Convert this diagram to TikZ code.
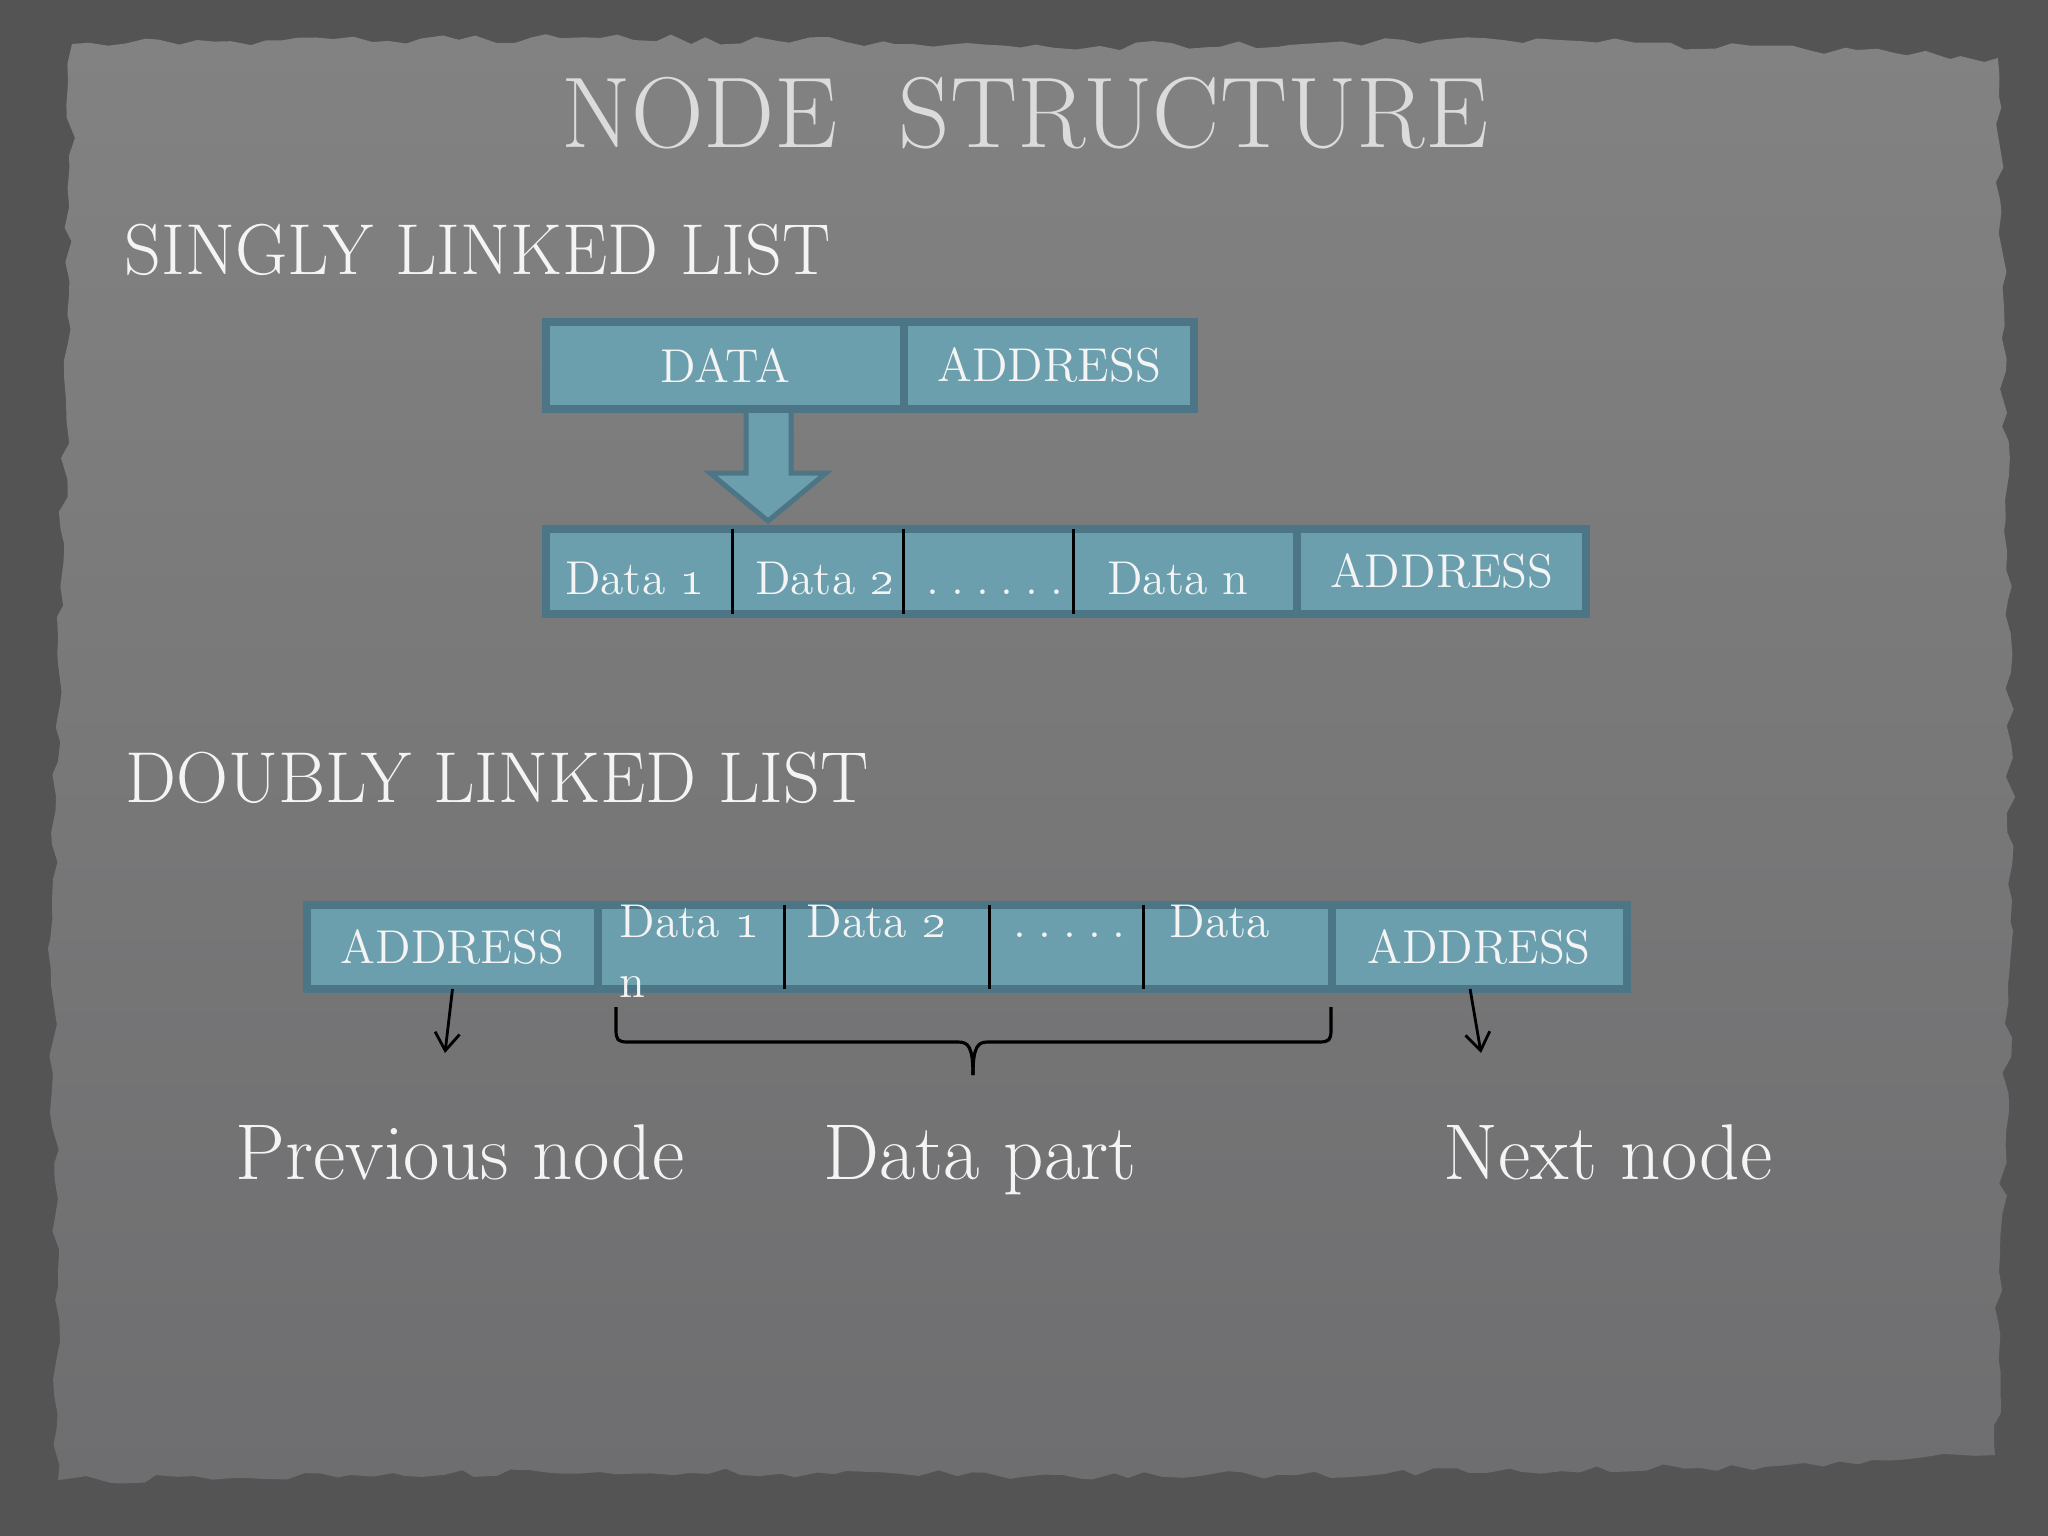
\documentclass[tikz,border=0pt]{standalone}
\usepackage{amsmath,amssymb}
\usepackage{tikz}
\usetikzlibrary{arrows.meta, positioning, calc, decorations.pathmorphing}

\definecolor{wall}{HTML}{545454}
\definecolor{papertop}{HTML}{828282}
\definecolor{paperbot}{HTML}{6E6E70}
\definecolor{cellfill}{HTML}{6C9FAE}
\definecolor{celledge}{HTML}{4C7585}
\definecolor{chalk}{HTML}{F4F4F4}

\newcommand{\gap}{\hspace{.25em}}

\tikzset{
  cell/.style={draw=celledge, fill=cellfill, line width=0.08cm, inner sep=0pt, outer sep=0pt,
    text=chalk, font=\fontsize{13.5}{16}\selectfont},
  celltext/.style={text=chalk, font=\fontsize{13.5}{16}\selectfont, inner sep=0pt},
  headline/.style={text=white!86!black, font=\fontsize{28.6}{34}\selectfont, inner sep=0pt},
  heading/.style={text=chalk, font=\fontsize{20.5}{25}\selectfont, anchor=base west, inner sep=0pt},
  lbl/.style={text=chalk, font=\fontsize{22.5}{27}\selectfont, anchor=base, inner sep=0pt},
  divider/.style={black, line width=0.9pt},
  bigarrow/.style={fill=cellfill, draw=celledge, line width=0.05cm, line join=miter},
  pointer/.style={-{Straight Barb[length=5pt,width=7pt]}, black, line width=0.8pt},
  bracket/.style={black, line width=0.9pt}
}

\begin{document}
\begin{tikzpicture}[x=0.01cm, y=-0.01cm]
  \pgfmathsetseed{7}
  \useasboundingbox (0,0) rectangle (2048,1536);
  % wall and torn paper
  \fill[wall] (0,0) rectangle (2048,1536);
  \path[top color=papertop, bottom color=paperbot, decorate,
    decoration={random steps, segment length=5pt, amplitude=1.3pt}]
    (72,44) -- (600,38) -- (1100,46) -- (1560,40) -- (1998,58) -- (2008,600) -- (2012,900)
    -- (1995,1455) -- (1700,1468) -- (1200,1476) -- (600,1472) -- (58,1480) -- (52,900)
    -- (66,400) -- cycle;

  \node[headline] (title) at (1025,113) {NODE~~STRUCTURE};

  % singly linked list
  \node[heading] (single) at (124,274) {SINGLY LINKED LIST};
  \draw[bigarrow] (746,405) -- (791,405) -- (791,473) -- (826,473) -- (768,521)
    -- (710,473) -- (746,473) -- cycle;
  \node[cell, minimum width=3.58cm, minimum height=0.87cm] (data) at (725,365.5) {DATA};
  \node[cell, minimum width=2.90cm, minimum height=0.87cm, right=0pt of data] (addr) {ADDRESS};

  \node[cell, minimum width=7.51cm, minimum height=0.85cm] (sdata) at (921.5,571.5) {};
  \node[cell, minimum width=2.89cm, minimum height=0.85cm, right=0pt of sdata] (saddr) {ADDRESS};
  \foreach \dx in {187,358,528}
    \draw[divider] ($(sdata.north west)+(\dx,0)$) -- ($(sdata.south west)+(\dx,0)$);
  \node[celltext, anchor=base] (s1) at (635,594) {Data \oldstylenums{1}};
  \node[celltext, anchor=base] (s2) at (825,594) {Data \oldstylenums{2}};
  \node[celltext, anchor=base] (sdots) at (995,594) {.\gap.\gap.\gap.\gap.\gap.};
  \node[celltext, anchor=base] (sn) at (1178,594) {Data n};

  % doubly linked list
  \node[heading] (double) at (125,802) {DOUBLY LINKED LIST};
  \node[cell, minimum width=2.91cm, minimum height=0.84cm] (dleft) at (452.5,947) {ADDRESS};
  \node[cell, minimum width=7.33cm, minimum height=0.84cm, right=0pt of dleft] (dmid) {};
  \node[cell, minimum width=2.95cm, minimum height=0.84cm, right=0pt of dmid] (dright) {ADDRESS};
  \foreach \dx in {186,391,545}
    \draw[divider] ($(dmid.north west)+(\dx,0)$) -- ($(dmid.south west)+(\dx,0)$);
  \node[celltext, anchor=base west] (d1) at (619,937) {Data \oldstylenums{1}};
  \node[celltext, anchor=base west] (d1n) at (619,997) {n};
  \node[celltext, anchor=base west] (d2) at (806,937) {Data \oldstylenums{2}};
  \node[celltext, anchor=base west] (ddots) at (1013,937) {.\gap.\gap.\gap.\gap.};
  \node[celltext, anchor=base west] (dn) at (1169,937) {Data};

  \coordinate (prevend) at (445,1053);
  \coordinate (nextend) at (1481,1053);
  \draw[pointer] (dleft.south) -- (prevend);
  \draw[pointer] ($(dright.south)+(-9,0)$) -- (nextend);

  \draw[bracket] (616,1007) -- (616,1030) .. controls (616,1040) and (618,1042) .. (628,1042)
    -- (958,1042) .. controls (968,1042) and (973,1046) .. (973,1075);
  \draw[bracket] (1331,1007) -- (1331,1030) .. controls (1331,1040) and (1329,1042) .. (1319,1042)
    -- (988,1042) .. controls (978,1042) and (973,1046) .. (973,1075);

  \node[lbl] (prev) at (460,1179) {Previous node};
  \node[lbl] (part) at (980,1179) {Data part};
  \node[lbl] (next) at (1608,1179) {Next node};
\end{tikzpicture}
\end{document}
